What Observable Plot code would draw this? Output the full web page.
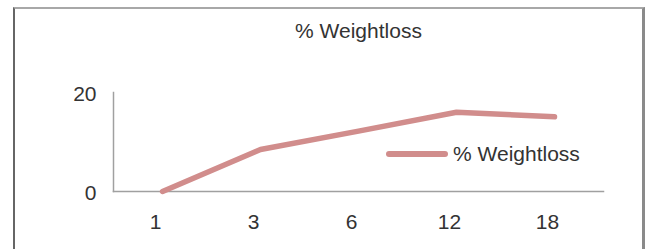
<!DOCTYPE html>
<html>
<head>
<meta charset="utf-8">
<script src="https://cdn.jsdelivr.net/npm/d3@7"></script>
<script src="https://cdn.jsdelivr.net/npm/@observablehq/plot@0.6"></script>
<style>
  html, body { margin: 0; padding: 0; background: #fff; }
  #wrap { position: relative; width: 650px; height: 249px; overflow: hidden; font-family: "Liberation Sans", Arial, sans-serif; }
  #border { position: absolute; left: 13px; top: 7px; width: 632px; height: 260px;
    border-left: 2px solid #666; border-top: 2px solid #a8a8a8; border-right: 3px solid #8a8a8a; box-sizing: border-box; }
  #legend { position: absolute; left: 386px; top: 142px; display: flex; align-items: center; font-size: 21px; color: #333; }
  #legend .swatch { display: inline-block; width: 62px; height: 5.5px; border-radius: 3px; margin-right: 5px; }
  svg { position: absolute; left: 0; top: 0; }
</style>
</head>
<body>
<div id="wrap">
  <div id="border"></div>
</div>
<script>
const months = ["1", "3", "6", "12", "18"];
const weightloss = [0, 8.5, 12.2, 16.0, 15.1];
const yTicks = [0, 20];
const seriesName = "% Weightloss";
const titleText = "% Weightloss";
const lineColor = "#d18d8c";

const data = months.map((m, i) => ({month: m, value: weightloss[i]}));

const chart = Plot.plot({
  width: 650,
  height: 249,
  marginLeft: 113,
  marginRight: 47,
  marginTop: 92,
  marginBottom: 58,
  style: {fontFamily: "'Liberation Sans', Arial, sans-serif", fontSize: "21px", color: "#333", background: "transparent"},
  x: {type: "point", domain: months, padding: 0.5},
  y: {domain: [0, 20]},
  marks: [
    Plot.frame({anchor: "left", stroke: "#a0a0a0", strokeWidth: 1.5}),
    Plot.frame({anchor: "bottom", stroke: "#a0a0a0", strokeWidth: 1.5}),
    Plot.axisY(yTicks, {tickSize: 0, tickPadding: 17, label: null, fontSize: 21, fill: "#333", dy: 2}),
    Plot.axisX(months, {tickSize: 0, tickPadding: 23, label: null, fontSize: 21, fill: "#333", dx: -7}),
    Plot.lineY(data, {x: "month", y: "value", stroke: lineColor, strokeWidth: 5.5, strokeLinecap: "round", strokeLinejoin: "round"}),
    Plot.text([titleText], {frameAnchor: "top", text: d => d, dy: -61, lineAnchor: "middle", fontSize: 21, fill: "#333"})
  ]
});

const wrap = document.getElementById("wrap");
wrap.appendChild(chart);
const legend = document.createElement("div");
legend.id = "legend";
legend.innerHTML = `<span class="swatch" style="background:${lineColor}"></span><span>${seriesName}</span>`;
wrap.appendChild(legend);
</script>
</body>
</html>
